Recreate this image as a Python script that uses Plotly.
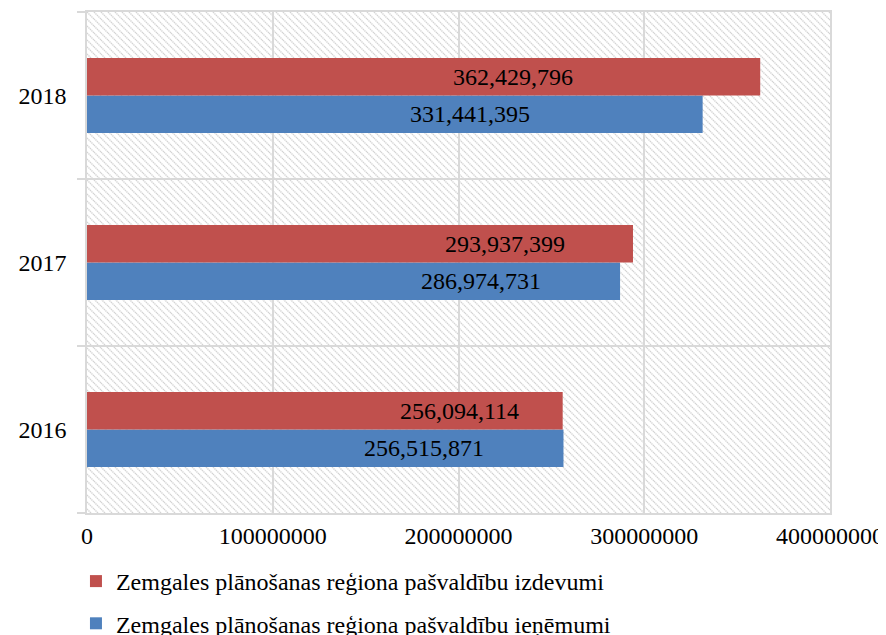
import base64
import plotly.graph_objects as go

# ---- data ----
years = ["2016", "2017", "2018"]
izdevumi = [256094114, 293937399, 362429796]      # expenditure (red)
ienemumi = [256515871, 286974731, 331441395]      # revenue (blue)
name_izdevumi = "Zemgales plānošanas reģiona pašvaldību izdevumi"
name_ienemumi = "Zemgales plānošanas reģiona pašvaldību ieņēmumi"
x_ticks = [0, 100000000, 200000000, 300000000, 400000000]

# label anchor positions (x of label centre)
label_x_izdevumi = [200.8e6, 225.0e6, 229.3e6]
label_x_ienemumi = [181.4e6, 212.1e6, 206.2e6]

RED = "#C0504D"
BLUE = "#4F81BD"
GRID = "#D9D9D9"
FONT = "Liberation Serif"
FS = 24

fig = go.Figure()
fig.add_trace(go.Bar(y=years, x=ienemumi, orientation="h", name=name_ienemumi,
                     marker=dict(color=BLUE, line=dict(width=0)),
                     legendgroup="b", legendrank=2, hoverinfo="skip"))
fig.add_trace(go.Bar(y=years, x=izdevumi, orientation="h", name=name_izdevumi,
                     marker=dict(color=RED, line=dict(width=0)),
                     legendgroup="a", legendrank=1, hoverinfo="skip"))

def fmt(v):
    return f"{v:,}"

annotations = []
for i, (v, lx) in enumerate(zip(izdevumi, label_x_izdevumi)):
    annotations.append(dict(x=lx, y=i, xref="x", yref="y", text=fmt(v), showarrow=False,
                            yshift=19, font=dict(family=FONT, size=FS, color="black")))
for i, (v, lx) in enumerate(zip(ienemumi, label_x_ienemumi)):
    annotations.append(dict(x=lx, y=i, xref="x", yref="y", text=fmt(v), showarrow=False,
                            yshift=-18.5, font=dict(family=FONT, size=FS, color="black")))

# hatched plot background as an SVG image
W, H = 743, 501
P = 7
svg = f'''<svg xmlns="http://www.w3.org/2000/svg" width="{W}" height="{H}" viewBox="0 0 {W} {H}" preserveAspectRatio="none">
<defs><pattern id="p" patternUnits="userSpaceOnUse" width="{P}" height="{P}">
<rect width="{P}" height="{P}" fill="white"/>
<path d="M0,0 L{P},{P} M-1,{P-1} L1,{P+1} M{P-1},-1 L{P+1},1" stroke="#D4D4D4" stroke-width="1.4" stroke-dasharray="1.4,0.7"/>
</pattern></defs>
<rect width="{W}" height="{H}" fill="url(#p)"/></svg>'''
src = "data:image/svg+xml;base64," + base64.b64encode(svg.encode()).decode()

fig.update_layout(
    width=878, height=627,
    margin=dict(l=79, r=56, t=4, b=122, autoexpand=False),
    paper_bgcolor="white", plot_bgcolor="rgba(0,0,0,0)",
    barmode="group", bargap=0.551, bargroupgap=0,
    font=dict(family=FONT, size=FS, color="black"),
    annotations=annotations,
    images=[dict(source=src, xref="paper", yref="paper", x=0, y=1, sizex=1, sizey=1,
                 sizing="stretch", layer="below", xanchor="left", yanchor="top")],
    legend=dict(orientation="v", xref="container", yref="container",
                x=0.0774, xanchor="left", y=1 - 551 / 627, yanchor="top",
                traceorder="grouped", tracegroupgap=8,
                font=dict(family=FONT, size=FS, color="black"),
                bgcolor="rgba(0,0,0,0)"),
    showlegend=True,
)
fig.update_xaxes(range=[0, 400000000], tickvals=x_ticks, ticktext=[str(t) for t in x_ticks],
                 showgrid=True, gridcolor=GRID, gridwidth=1.5, zeroline=False,
                 showline=True, linecolor=GRID, linewidth=1.5, mirror=True, automargin=False,
                 ticks="", tickfont=dict(family=FONT, size=FS, color="black"))
fig.update_yaxes(type="category", categoryorder="array", categoryarray=years,
                 range=[-0.5, len(years) - 0.5], autorange=False,
                 tickson="boundaries", ticks="outside", ticklen=8, tickcolor=GRID, tickwidth=1.5,
                 showgrid=True, gridcolor=GRID, gridwidth=1.5,
                 showline=True, linecolor=GRID, linewidth=1.5, mirror=True, automargin=False,
                 ticklabelstandoff=14,
                 tickfont=dict(family=FONT, size=FS, color="black"))

fig.write_html("out.html")
